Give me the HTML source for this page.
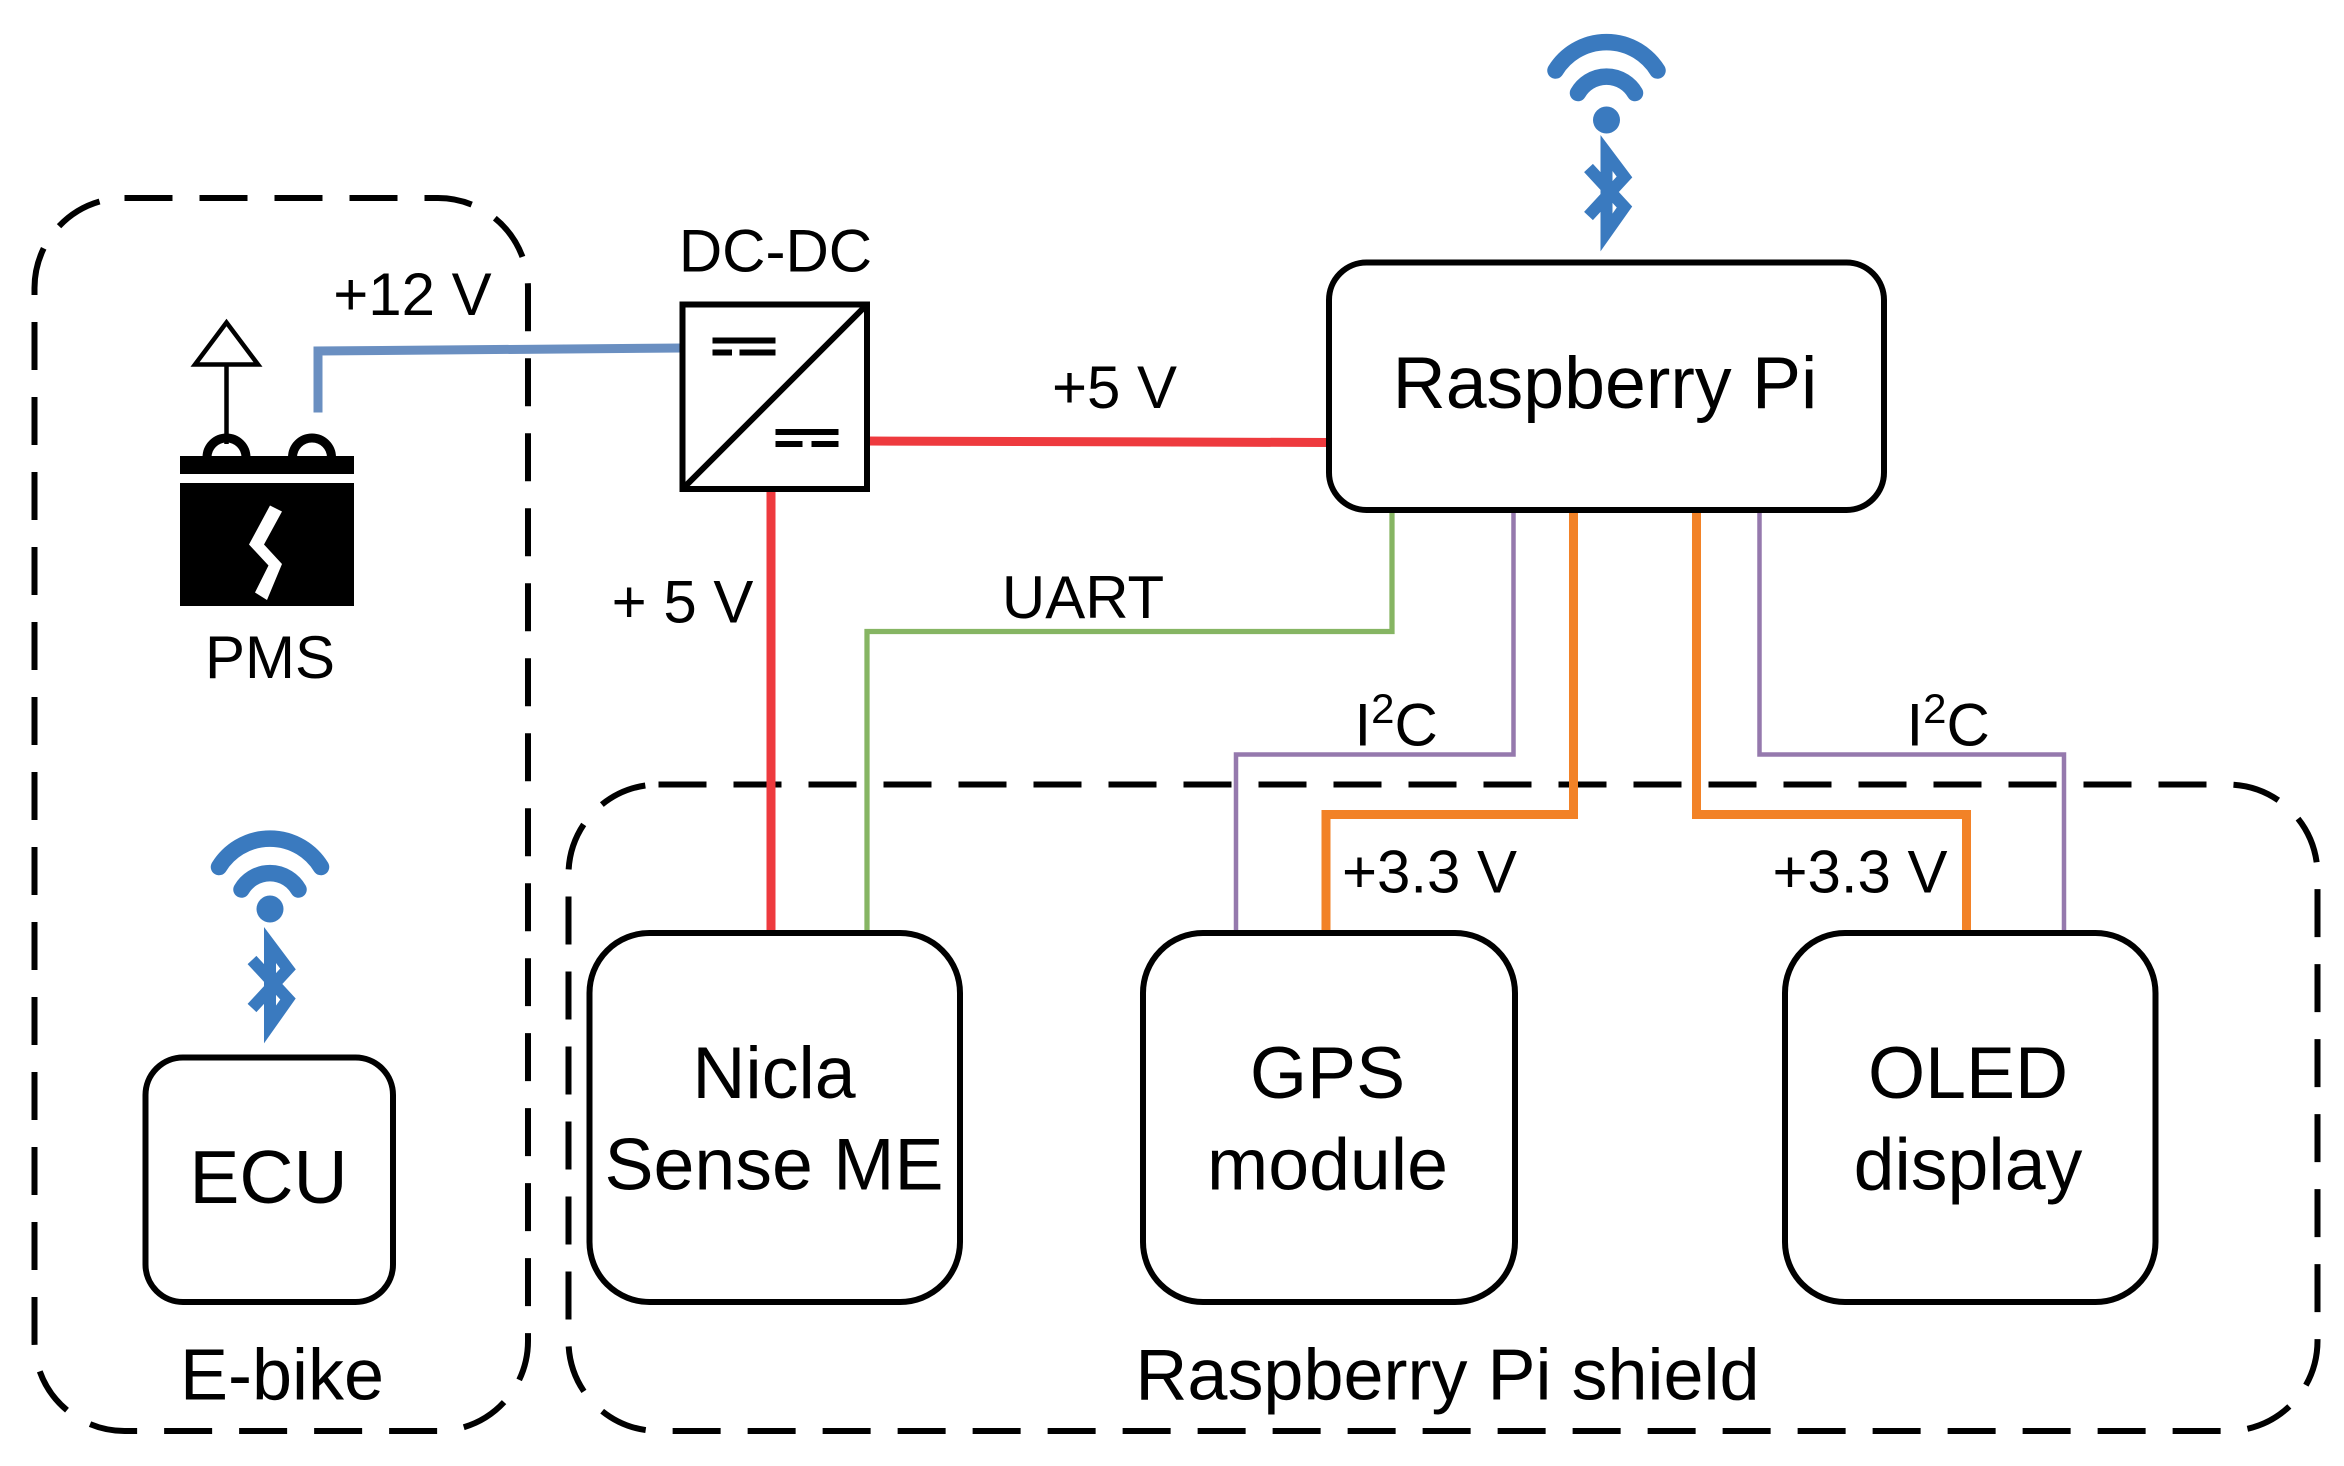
<!DOCTYPE html>
<html><head><meta charset="utf-8"><style>
html,body{margin:0;padding:0;background:#fff;}
svg{display:block}
text{font-family:"Liberation Sans",Arial,sans-serif;fill:#000}
</style></head><body>
<svg width="2344" height="1466" viewBox="0 0 1562.67 977.33" xmlns="http://www.w3.org/2000/svg">
<rect x="0" y="0" width="1563" height="978" fill="#fff"/>
<rect x="23" y="132" width="329" height="822" rx="60" fill="none" stroke="#000" stroke-width="4" stroke-dasharray="32 18"/>
<rect x="379" y="523" width="1166" height="431" rx="60" fill="none" stroke="#000" stroke-width="4" stroke-dasharray="32 18"/>

<polyline points="212,275 212,234 455,232" fill="none" stroke="#6a8fc1" stroke-width="6"/>
<line x1="578" y1="294" x2="886" y2="295" stroke="#ee3a3e" stroke-width="6"/>
<line x1="514" y1="326" x2="514" y2="622" stroke="#ee3a3e" stroke-width="6"/>
<polyline points="928,340 928,421 578,421 578,622" fill="none" stroke="#86b563" stroke-width="3.5"/>
<polyline points="1009,340 1009,503 824,503 824,622" fill="none" stroke="#9579ad" stroke-width="3"/>
<polyline points="1049,340 1049,543 884,543 884,622" fill="none" stroke="#f28227" stroke-width="6"/>
<polyline points="1131,340 1131,543 1311,543 1311,622" fill="none" stroke="#f28227" stroke-width="6"/>
<polyline points="1173,340 1173,503 1376,503 1376,622" fill="none" stroke="#9579ad" stroke-width="3"/>

<rect x="455" y="203" width="123" height="123" fill="#fff" stroke="#000" stroke-width="4"/>
<line x1="457" y1="324" x2="576" y2="205" stroke="#000" stroke-width="4"/>
<rect x="475" y="225" width="42" height="4" fill="#000"/>
<rect x="475" y="233" width="13" height="4" fill="#000"/>
<rect x="493" y="233" width="13" height="4" fill="#000"/>
<rect x="505" y="233" width="12" height="4" fill="#000"/>
<rect x="517" y="286" width="42" height="4" fill="#000"/>
<rect x="517" y="294" width="18" height="4" fill="#000"/>
<rect x="541" y="294" width="18" height="4" fill="#000"/>
<text x="517" y="181" font-size="40" text-anchor="middle">DC-DC</text>

<polygon points="151,215 130,243 172,243" fill="#fff" stroke="#000" stroke-width="3"/>
<line x1="151" y1="243" x2="151" y2="296" stroke="#000" stroke-width="3"/>
<path d="M138,305 a13,13 0 0 1 26,0" fill="none" stroke="#000" stroke-width="6"/>
<path d="M195,305 a13,13 0 0 1 26,0" fill="none" stroke="#000" stroke-width="6"/>
<rect x="120" y="304" width="116" height="12" fill="#000"/>
<rect x="120" y="322" width="116" height="82" fill="#000"/>
<polygon points="180,337 188,341 176,363 188,376 178,400 170,395 179,377 166,363" fill="#fff"/>
<text x="180" y="452" font-size="40" text-anchor="middle">PMS</text>

<text x="275" y="210" font-size="40" text-anchor="middle">+12 V</text>
<text x="743" y="272" font-size="40" text-anchor="middle">+5 V</text>
<text x="455" y="415" font-size="40" text-anchor="middle">+ 5 V</text>
<text x="722" y="412" font-size="40" text-anchor="middle">UART</text>
<text x="903" y="497" font-size="40">I<tspan dy="-15" font-size="28">2</tspan><tspan dy="15">C</tspan></text>
<text x="1271" y="497" font-size="40">I<tspan dy="-15" font-size="28">2</tspan><tspan dy="15">C</tspan></text>
<text x="953" y="595" font-size="40" text-anchor="middle">+3.3 V</text>
<text x="1240" y="595" font-size="40" text-anchor="middle">+3.3 V</text>

<rect x="886" y="175" width="370" height="165" rx="25" fill="#fff" stroke="#000" stroke-width="4"/>
<text x="1070" y="272" font-size="49" text-anchor="middle">Raspberry Pi</text>

<rect x="393" y="622" width="247" height="246" rx="40" fill="#fff" stroke="#000" stroke-width="4"/>
<text x="516" y="732" font-size="49" text-anchor="middle">Nicla</text>
<text x="516" y="793" font-size="49" text-anchor="middle">Sense ME</text>
<rect x="762" y="622" width="248" height="246" rx="40" fill="#fff" stroke="#000" stroke-width="4"/>
<text x="885" y="732" font-size="49" text-anchor="middle">GPS</text>
<text x="885" y="793" font-size="49" text-anchor="middle">module</text>
<rect x="1190" y="622" width="247" height="246" rx="40" fill="#fff" stroke="#000" stroke-width="4"/>
<text x="1312" y="732" font-size="49" text-anchor="middle">OLED</text>
<text x="1312" y="793" font-size="49" text-anchor="middle">display</text>
<rect x="97" y="705" width="165" height="163" rx="25" fill="#fff" stroke="#000" stroke-width="4"/>
<text x="179" y="802" font-size="50" text-anchor="middle">ECU</text>

<text x="188" y="933" font-size="48" text-anchor="middle">E-bike</text>
<text x="965" y="933" font-size="48" text-anchor="middle">Raspberry Pi shield</text>

<g fill="none" stroke="#3a7abf" stroke-linecap="round">
<path d="M1037,47 A40,40 0 0 1 1105,47" stroke-width="11"/>
<path d="M1052,62 A22,22 0 0 1 1090,62" stroke-width="11"/>
<circle cx="1071" cy="80" r="9" fill="#3a7abf" stroke="none"/>
<polyline points="1059,112 1083,138 1071,155 1071,102 1083,118 1059,144" stroke-width="8" stroke-linecap="butt"/>
</g>
<g fill="none" stroke="#3a7abf" stroke-linecap="round">
<path d="M146,578 A40,40 0 0 1 214,578" stroke-width="11"/>
<path d="M161,593 A22,22 0 0 1 199,593" stroke-width="11"/>
<circle cx="180" cy="606" r="9" fill="#3a7abf" stroke="none"/>
<polyline points="168,640 192,666 180,683 180,630 192,646 168,672" stroke-width="8" stroke-linecap="butt"/>
</g>
</svg>
</body></html>
